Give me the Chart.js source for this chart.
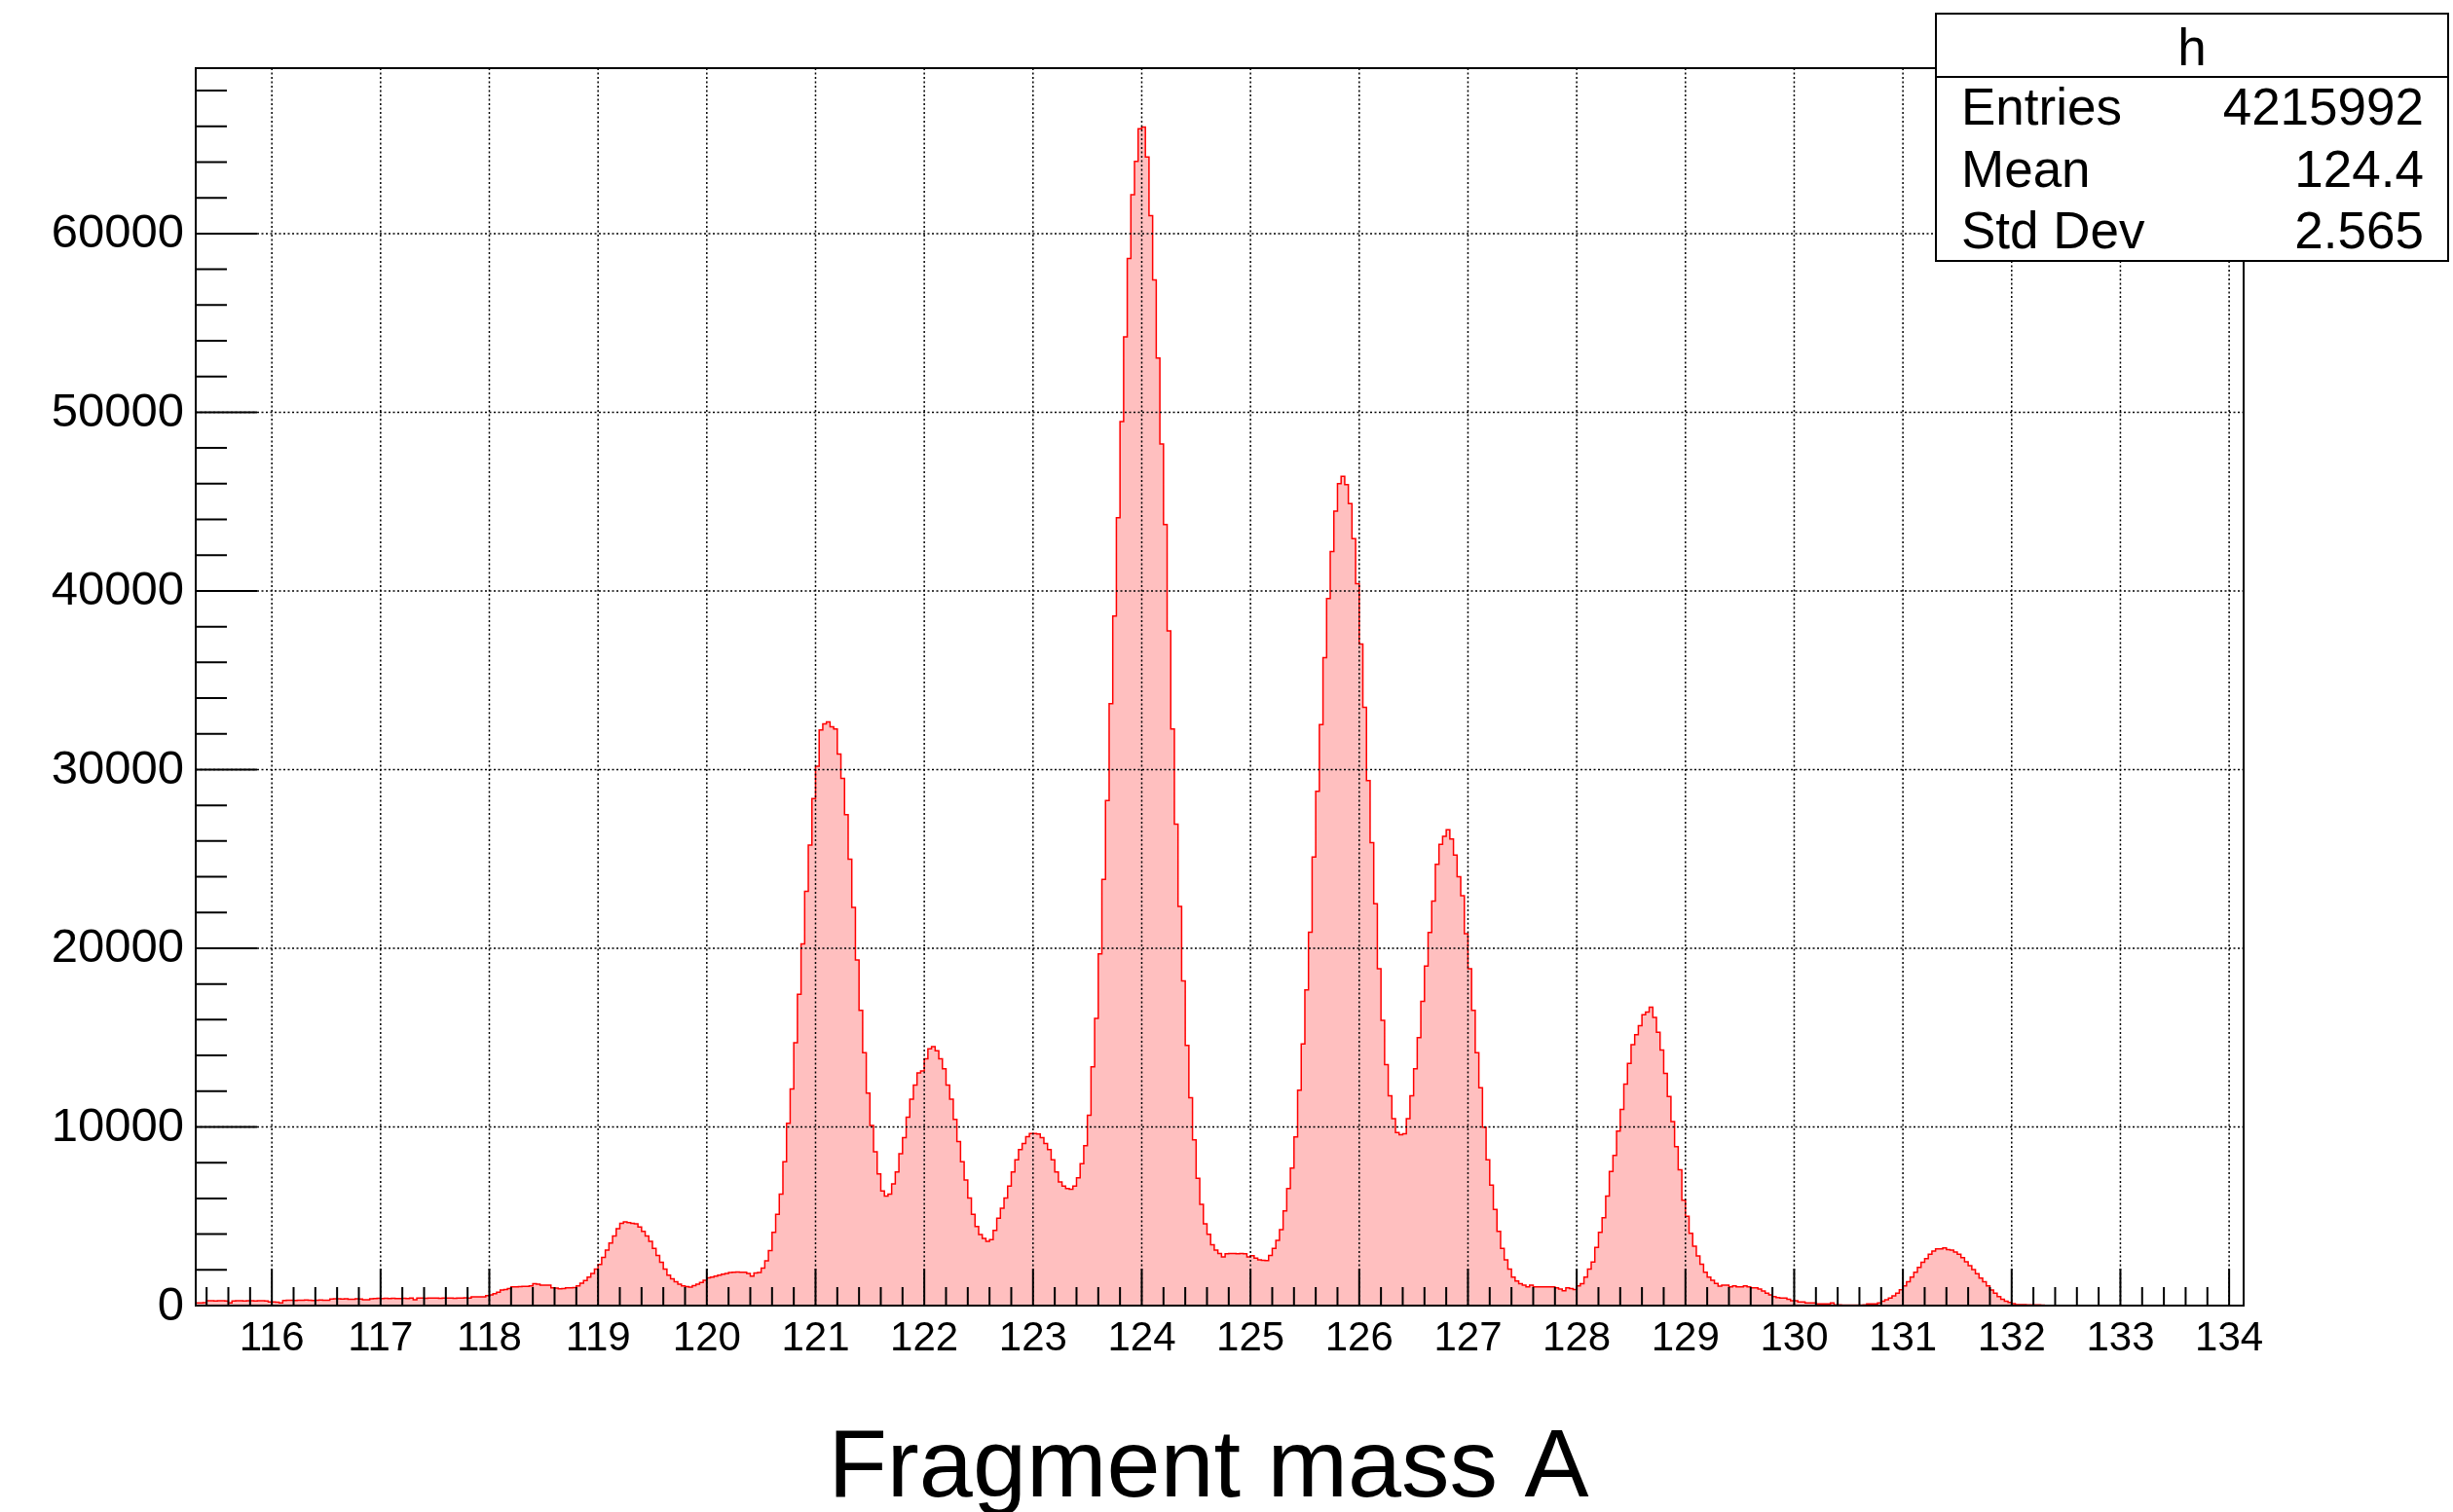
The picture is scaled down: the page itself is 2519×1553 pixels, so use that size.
<!DOCTYPE html>
<html>
<head>
<meta charset="utf-8">
<title>Fragment mass A</title>
<script src="https://cdn.jsdelivr.net/npm/chart.js@4.4.1/dist/chart.umd.min.js"></script>
<style>
  html, body { margin: 0; padding: 0; background: #fff; }
  canvas { display: block; }
</style>
</head>
<body>
<canvas id="massChart" width="2519" height="1553" style="width:2519px;height:1553px"></canvas>
<script>
// histogram h: bins of 1/30 in A, first bin starts at 115.3
const massMin = 115.3;
const binsPerUnit = 30;

// bin contents, one row per unit of A
const counts = [
  // 115.3 - 116
  150, 150, 160, 270, 270, 260, 270, 270, 260, 150, 260, 270, 270, 260, 270, 270, 260, 270, 270, 260, 210,
  // 116
  200, 190, 150, 290, 300, 300, 290, 300, 300, 310, 300, 290, 300, 310, 300, 300, 370, 380, 380, 370, 380, 350, 360, 380, 370, 330, 330, 380, 400, 410,
  // 117
  400, 410, 400, 410, 390, 400, 410, 400, 420, 330, 420, 420, 410, 420, 420, 420, 410, 420, 420, 420, 410, 420, 420, 430, 420, 490, 490, 490, 490, 560,
  // 118
  600, 670, 750, 870, 900, 950, 1050, 1050, 1060, 1070, 1080, 1100, 1220, 1200, 1150, 1150, 1140, 1000, 980, 940, 960, 1000, 1000, 1010, 1100, 1250, 1400, 1600, 1800, 2050,
  // 119
  2300, 2700, 3100, 3500, 3900, 4300, 4600, 4680, 4650, 4600, 4580, 4400, 4150, 3900, 3600, 3200, 2800, 2420, 2050, 1700, 1500, 1330, 1200, 1100, 1060, 1040, 1120, 1200, 1300, 1420,
  // 120
  1550, 1600, 1650, 1700, 1760, 1800, 1850, 1870, 1880, 1860, 1870, 1800, 1650, 1820, 1850, 2100, 2500, 3080, 4100, 5110, 6240, 8050, 10200, 12120, 14710, 17420, 20250, 23190, 25780, 28380,
  // 121
  30190, 32220, 32560, 32670, 32400, 32270, 30870, 29510, 27480, 24990, 22280, 19340, 16520, 14150, 11890, 10080, 8610, 7370, 6420, 6130, 6240, 6810, 7480, 8500, 9400, 10540, 11550, 12340, 13020, 13130,
  // 122
  13810, 14370, 14490, 14260, 13810, 13250, 12340, 11550, 10420, 9180, 8050, 7030, 6020, 5110, 4430, 3980, 3760, 3600, 3690, 4210, 4890, 5450, 6020, 6690, 7480, 8160, 8730, 9070, 9450, 9630,
  // 123
  9630, 9600, 9400, 9070, 8730, 8160, 7480, 6920, 6690, 6550, 6510, 6690, 7150, 7940, 8950, 10650, 13360, 16070, 19680, 23860, 28270, 33690, 38600, 44100, 49480, 54220, 58600, 62170, 64040, 65860,
  // 124
  65960, 64290, 61000, 57410, 53030, 48230, 43710, 37760, 32270, 26950, 22340, 18170, 14560, 11630, 9280, 7130, 5670, 4580, 3990, 3410, 3110, 2910, 2730, 2900, 2920, 2910, 2900, 2910, 2900, 2730,
  // 125
  2790, 2660, 2560, 2530, 2520, 2800, 3200, 3650, 4250, 5300, 6550, 7700, 9440, 12050, 14650, 17670, 20900, 25100, 28780, 32520, 36270, 39570, 42210, 44470, 46010, 46410, 45950, 44890, 42920, 40410,
  // 126
  37020, 33480, 29390, 25910, 22490, 18850, 15970, 13490, 11740, 10460, 9680, 9560, 9620, 10460, 11740, 13250, 15000, 17030, 19000, 20880, 22640, 24700, 25820, 26270, 26630, 26120, 25210, 24000, 22940, 20820,
  // 127
  18850, 16520, 14160, 12190, 9980, 8160, 6740, 5380, 4160, 3200, 2560, 2050, 1590, 1380, 1230, 1140, 1050, 1140, 1050, 1050, 1050, 1050, 1050, 1050, 1000, 930, 830, 990, 950, 900,
  // 128
  1100, 1230, 1590, 2050, 2440, 3260, 4100, 4920, 6130, 7500, 8410, 9770, 10980, 12400, 13550, 14610, 15160, 15670, 16280, 16430, 16700, 16130, 15300, 14300, 13000, 11700, 10300, 8900, 7600, 5900,
  // 129
  5000, 4050, 3320, 2780, 2320, 1870, 1600, 1420, 1240, 1090, 1140, 1140, 1050, 1110, 1050, 1050, 1110, 1050, 1000, 1000, 930, 820, 690, 600, 510, 450, 420, 420, 360, 270,
  // 130
  270, 200, 200, 150, 150, 150, 90, 90, 90, 90, 150, 40, 40, 30, 30, 30, 30, 30, 30, 40, 90, 90, 100, 150, 250, 330, 420, 550, 700, 880,
  // 131
  1100, 1330, 1600, 1870, 2140, 2420, 2630, 2870, 3050, 3180, 3180, 3230, 3140, 3110, 3000, 2870, 2690, 2450, 2230, 2020, 1780, 1540, 1330, 1110, 870, 690, 510, 360, 240, 180,
  // 132
  110, 60, 50, 50, 40, 40, 40, 40, 30, 0, 0, 0, 0, 20, 0, 0, 0, 0, 0, 0, 0, 0, 0, 0, 0, 0, 0, 0, 0, 0,
  // 133
  0, 0, 0, 0, 0, 0, 0, 0, 0, 0, 0, 0, 0, 0, 0, 0, 0, 0, 0, 0, 0, 0, 0, 0, 0, 0, 0, 0, 0, 0,
  // 134 - 134.133
  0, 0, 0, 0
];

const massTicks = [116, 117, 118, 119, 120, 121, 122, 123, 124, 125, 126, 127, 128, 129, 130, 131, 132, 133, 134];
const countTicks = [0, 10000, 20000, 30000, 40000, 50000, 60000];

const statsTitle = 'h';
const statsLabels = ['Entries', 'Mean', 'Std Dev'];
const statsValues = ['4215992', '124.4', '2.565'];
const axisTitle = 'Fragment mass A';

const FONT = '"Liberation Sans", Arial, Helvetica, sans-serif';
const massMax = massMin + counts.length / binsPerUnit;

// one point per lower bin edge, plus the closing upper edge
const points = counts.map((c, i) => ({ x: massMin + i / binsPerUnit, y: c }));
points.push({ x: massMax, y: counts[counts.length - 1] });

// ROOT-style frame: dotted grid, inward ticks, box, stats pave and axis title
const rootFrame = {
  id: 'rootFrame',
  afterDatasetsDraw(chart) {
    const { ctx, chartArea: a, scales: { x, y } } = chart;
    ctx.save();
    ctx.strokeStyle = '#000';

    ctx.lineWidth = 1.5;
    ctx.setLineDash([2, 2.5]);
    ctx.beginPath();
    massTicks.forEach(v => {
      const px = x.getPixelForValue(v);
      ctx.moveTo(px, a.top);
      ctx.lineTo(px, a.bottom);
    });
    countTicks.forEach(v => {
      if (v === 0) return;
      const py = y.getPixelForValue(v);
      ctx.moveTo(a.left, py);
      ctx.lineTo(a.right, py);
    });
    ctx.stroke();
    ctx.setLineDash([]);

    ctx.lineWidth = 2;
    ctx.beginPath();
    for (let t = Math.ceil(x.min * 5 - 1e-6); t <= Math.floor(x.max * 5 + 1e-6); t++) {
      const px = x.getPixelForValue(t / 5);
      ctx.moveTo(px, a.bottom);
      ctx.lineTo(px, a.bottom - (t % 5 === 0 ? 38 : 19));
    }
    for (let v = 0; v <= y.max; v += 2000) {
      const py = y.getPixelForValue(v);
      ctx.moveTo(a.left, py);
      ctx.lineTo(a.left + (v % 10000 === 0 ? 63 : 32), py);
    }
    ctx.stroke();

    ctx.strokeRect(a.left, a.top, a.right - a.left, a.bottom - a.top);
    ctx.restore();
  },
  afterDraw(chart) {
    const { ctx } = chart;
    ctx.save();

    // stats box
    const box = { left: 1988, top: 14, right: 2514, bottom: 268, split: 79 };
    ctx.fillStyle = '#fff';
    ctx.fillRect(box.left, box.top, box.right - box.left, box.bottom - box.top);
    ctx.strokeStyle = '#000';
    ctx.lineWidth = 2;
    ctx.strokeRect(box.left, box.top, box.right - box.left, box.bottom - box.top);
    ctx.beginPath();
    ctx.moveTo(box.left, box.split);
    ctx.lineTo(box.right, box.split);
    ctx.stroke();

    ctx.fillStyle = '#000';
    ctx.font = '53px ' + FONT;
    ctx.textBaseline = 'alphabetic';
    ctx.textAlign = 'center';
    ctx.fillText(statsTitle, (box.left + box.right) / 2, 67);
    const rows = [128, 192, 255];
    statsLabels.forEach((label, i) => {
      ctx.textAlign = 'left';
      ctx.fillText(label, 2014, rows[i]);
      ctx.textAlign = 'right';
      ctx.fillText(statsValues[i], 2489, rows[i]);
    });

    // x axis title
    ctx.font = '99px ' + FONT;
    ctx.textAlign = 'center';
    ctx.fillText(axisTitle, 1241, 1537);
    ctx.restore();
  }
};

new Chart(document.getElementById('massChart').getContext('2d'), {
  type: 'line',
  data: {
    datasets: [{
      data: points,
      stepped: true,
      fill: 'origin',
      backgroundColor: 'rgb(255, 191, 191)',
      borderColor: 'rgb(255, 0, 0)',
      borderWidth: 1.5,
      pointRadius: 0,
      tension: 0
    }]
  },
  options: {
    responsive: false,
    animation: false,
    devicePixelRatio: 1,
    layout: { padding: { left: 0, top: 70, right: 215, bottom: 0 } },
    plugins: {
      legend: { display: false },
      tooltip: { enabled: false }
    },
    scales: {
      x: {
        type: 'linear',
        min: massMin,
        max: massMax,
        afterBuildTicks: scale => { scale.ticks = massTicks.map(v => ({ value: v })); },
        afterFit: scale => { scale.height = 212; },
        grid: { display: false, drawTicks: false },
        border: { display: false },
        ticks: {
          color: '#000',
          font: { family: FONT, size: 42 },
          padding: 9,
          maxRotation: 0,
          autoSkip: false,
          callback: v => String(v)
        }
      },
      y: {
        min: 0,
        max: Math.max(...counts) * 1.05,
        afterBuildTicks: scale => { scale.ticks = countTicks.map(v => ({ value: v })); },
        afterFit: scale => { scale.width = 201; },
        grid: { display: false, drawTicks: false },
        border: { display: false },
        ticks: {
          color: '#000',
          font: { family: FONT, size: 49 },
          padding: 12,
          labelOffset: 1,
          autoSkip: false,
          callback: v => String(v)
        }
      }
    }
  },
  plugins: [rootFrame]
});
</script>
</body>
</html>
